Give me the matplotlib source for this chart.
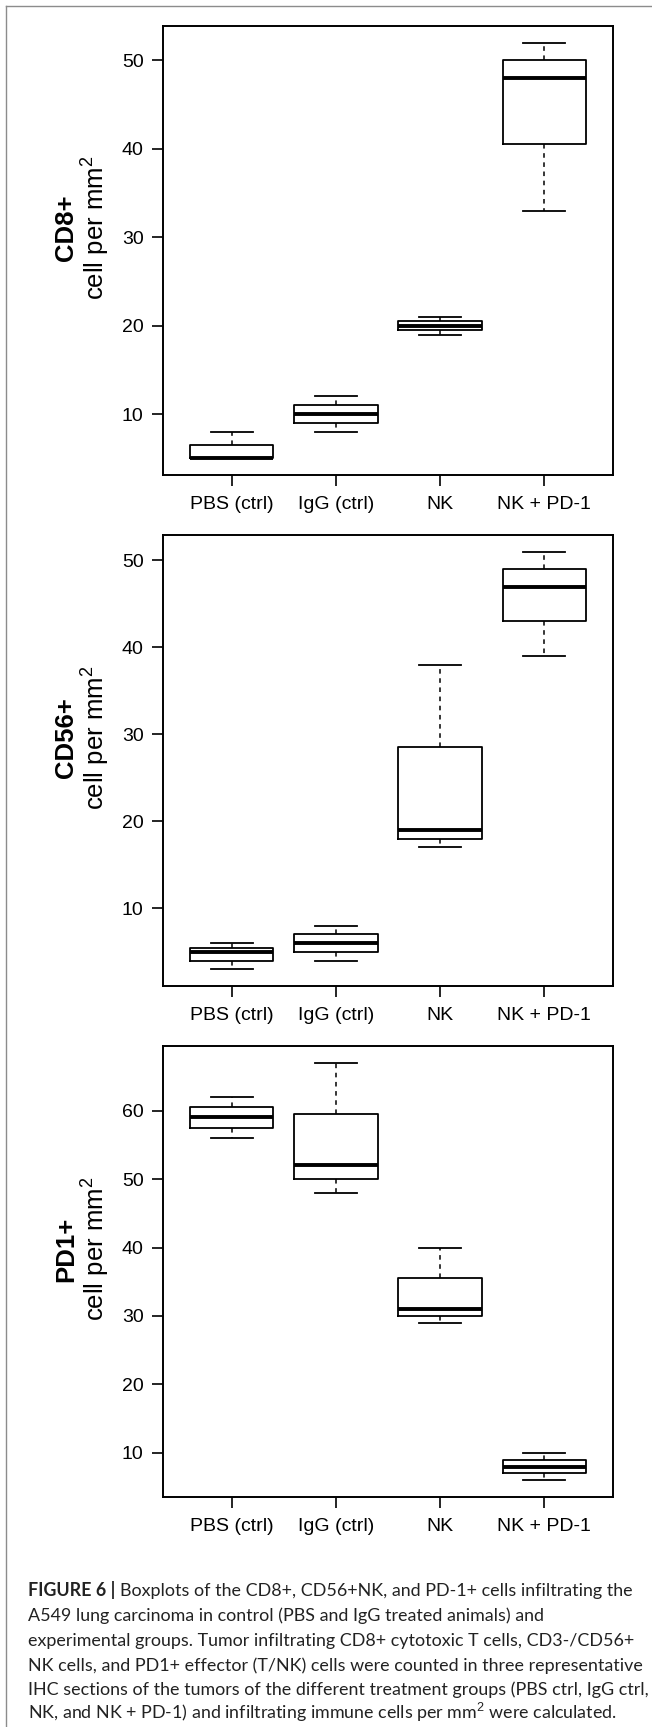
import matplotlib
matplotlib.use('Agg')
import matplotlib.pyplot as plt
from matplotlib.lines import Line2D
from matplotlib.ticker import MultipleLocator

plt.rcParams['font.family'] = ['Liberation Sans', 'DejaVu Sans']
plt.rcParams['mathtext.fontset'] = 'custom'
plt.rcParams['mathtext.rm'] = 'Liberation Sans'
plt.rcParams['mathtext.it'] = 'Liberation Sans:italic'
plt.rcParams['mathtext.bf'] = 'Liberation Sans:bold'

groups = ['PBS (ctrl)', 'IgG (ctrl)', 'NK', 'NK + PD-1']

# CD8+ cells per mm2
cd8_min = [5, 8, 19, 33]
cd8_q1 = [5, 9, 19.5, 40.5]
cd8_med = [5, 10, 20, 48]
cd8_q3 = [6.5, 11, 20.5, 50]
cd8_max = [8, 12, 21, 52]

# CD56+ cells per mm2
cd56_min = [3, 4, 17, 39]
cd56_q1 = [4, 5, 18, 43]
cd56_med = [5, 6, 19, 47]
cd56_q3 = [5.5, 7, 28.5, 49]
cd56_max = [6, 8, 38, 51]

# PD1+ cells per mm2
pd1_min = [56, 48, 29, 6]
pd1_q1 = [57.5, 50, 30, 7]
pd1_med = [59, 52, 31, 8]
pd1_q3 = [60.5, 59.5, 35.5, 9]
pd1_max = [62, 67, 40, 10]

markers = ['CD8+', 'CD56+', 'PD1+']

caption_head = 'FIGURE 6 | '
caption_lines = [
    'Boxplots of the CD8+, CD56+NK, and PD-1+ cells infiltrating the',
    'A549 lung carcinoma in control (PBS and IgG treated animals) and',
    'experimental groups. Tumor infiltrating CD8+ cytotoxic T cells, CD3-/CD56+',
    'NK cells, and PD1+ effector (T/NK) cells were counted in three representative',
    'IHC sections of the tumors of the different treatment groups (PBS ctrl, IgG ctrl,',
    'NK, and NK + PD-1) and infiltrating immune cells per mm$^2$ were calculated.',
]

W, H = 652, 1727
cap_font = ['Lato', 'DejaVu Sans']


def make_stats(mins, q1s, meds, q3s, maxs):
    stats = []
    for lo, a, m, b, hi in zip(mins, q1s, meds, q3s, maxs):
        stats.append(dict(whislo=lo, q1=a, med=m, q3=b, whishi=hi, fliers=[]))
    return stats


def draw_panel(ax, stats, marker):
    pos = list(range(1, len(groups) + 1))
    ax.bxp(stats, positions=pos, widths=0.8, capwidths=0.4, showfliers=False,
           boxprops=dict(color='black', lw=1.3),
           medianprops=dict(color='black', lw=2.8, solid_capstyle='butt'),
           whiskerprops=dict(color='black', lw=1.1, linestyle=(0, (3, 3))),
           capprops=dict(color='black', lw=1.3))
    lo = min(s['whislo'] for s in stats)
    hi = max(s['whishi'] for s in stats)
    pad = 0.04 * (hi - lo)
    ax.set_ylim(lo - pad, hi + pad)
    ax.set_xlim(0.34, 4.66)
    ax.yaxis.set_major_locator(MultipleLocator(10))
    ax.set_xticks(pos)
    ax.set_xticklabels(groups)
    ax.tick_params(axis='both', direction='out', length=8, width=1.2,
                   labelsize=14, color='black')
    ax.tick_params(axis='y', pad=6)
    ax.tick_params(axis='x', pad=7)
    for sp in ax.spines.values():
        sp.set_linewidth(1.4)
    ax.text(-0.215, 0.55, marker, transform=ax.transAxes, rotation=90,
            ha='center', va='center', fontsize=18.5, fontweight='bold')
    ax.text(-0.15, 0.55, 'cell per mm$^2$', transform=ax.transAxes,
            rotation=90, ha='center', va='center', fontsize=18.5)


fig = plt.figure(figsize=(W / 100, H / 100), dpi=100)

# axes boxes in pixels: left, right, top, bottom
boxes = [(163, 613, 26, 475), (163, 613, 535, 986), (163, 613, 1046, 1497)]
all_stats = [
    make_stats(cd8_min, cd8_q1, cd8_med, cd8_q3, cd8_max),
    make_stats(cd56_min, cd56_q1, cd56_med, cd56_q3, cd56_max),
    make_stats(pd1_min, pd1_q1, pd1_med, pd1_q3, pd1_max),
]
for (l, r, t, b), st, mk in zip(boxes, all_stats, markers):
    ax = fig.add_axes([l / W, 1 - b / H, (r - l) / W, (b - t) / H])
    draw_panel(ax, st, mk)

# page frame
fig.add_artist(Line2D([6 / W, 6 / W], [0, 1 - 6 / H], transform=fig.transFigure,
                      color='#8c8c8c', lw=1.0))
fig.add_artist(Line2D([6 / W, 1], [1 - 6 / H, 1 - 6 / H], transform=fig.transFigure,
                      color='#8c8c8c', lw=1.0))

# caption: fit the widest line to the page width
renderer = fig.canvas.get_renderer()
x0 = 28
fs = 12.0
probe = []
head = fig.text(0, 0, caption_head, fontsize=fs, fontweight='bold', family=cap_font)
head_w = head.get_window_extent(renderer).width
probe.append(head)
widths = []
for i, line in enumerate(caption_lines):
    t = fig.text(0, 0, line, fontsize=fs, family=cap_font)
    w = t.get_window_extent(renderer).width
    widths.append(w + head_w if i == 0 else w)
    probe.append(t)
for t in probe:
    t.remove()
fs = fs * 616 / max(widths)

baselines = [1596, 1621, 1646, 1671, 1695, 1719]
head = fig.text(x0 / W, 1 - baselines[0] / H, caption_head, fontsize=fs,
                fontweight='bold', color='#222222', va='baseline', family=cap_font)
hx = head.get_window_extent(renderer).x1
for i, (line, yb) in enumerate(zip(caption_lines, baselines)):
    xs = hx / W if i == 0 else x0 / W
    fig.text(xs, 1 - yb / H, line, fontsize=fs, color='#222222', va='baseline',
             family=cap_font)

fig.savefig('out.png', dpi=100)
